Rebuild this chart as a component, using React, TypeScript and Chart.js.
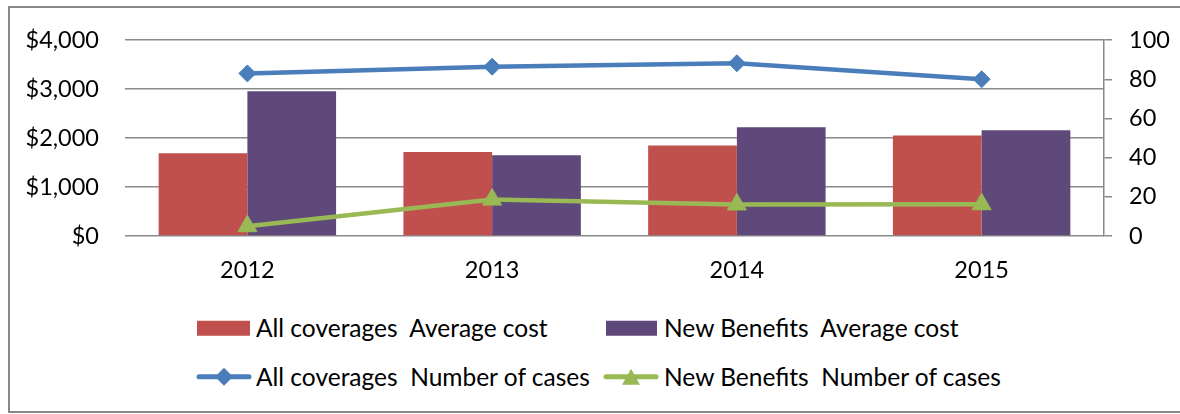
import React, { useEffect, useRef } from 'react';
import { Chart, registerables } from 'chart.js';

Chart.register(...registerables);

const years = ['2012', '2013', '2014', '2015'];
const allCoveragesAvgCost = [1690, 1715, 1850, 2050];
const newBenefitsAvgCost = [2955, 1650, 2220, 2160];
const allCoveragesCases = [83, 86.4, 88.2, 80];
const newBenefitsCases = [5, 18.6, 16.1, 16.2];
const seriesLabels = [
  'All coverages  Average cost',
  'New Benefits  Average cost',
  'All coverages  Number of cases',
  'New Benefits  Number of cases',
];

const RED = '#C0504D';
const PURPLE = '#5F497A';
const BLUE = '#4A7EBB';
const GREEN = '#98B954';
const GRID = '#8a8a8a';
const FONT = 'Lato, "Open Sans", sans-serif';

function LineIcon({ color, marker }: { color: string; marker: 'diamond' | 'triangle' }) {
  return (
    <svg width={56} height={24} style={{ display: 'block' }}>
      <line x1={3} y1={12} x2={53} y2={12} stroke={color} strokeWidth={5} strokeLinecap="round" />
      {marker === 'diamond' ? (
        <polygon points="28,3 37,12 28,21 19,12" fill={color} />
      ) : (
        <polygon points="28,4 37,20 19,20" fill={color} />
      )}
    </svg>
  );
}

export default function App() {
  const canvasRef = useRef<HTMLCanvasElement | null>(null);

  useEffect(() => {
    const canvas = canvasRef.current;
    if (!canvas) return;
    const tickFont = { family: FONT, size: 23.5 };
    const chart = new Chart(canvas, {
      type: 'bar',
      data: {
        labels: years,
        datasets: [
          {
            type: 'line',
            label: seriesLabels[2],
            data: allCoveragesCases,
            yAxisID: 'y1',
            borderColor: BLUE,
            backgroundColor: BLUE,
            borderWidth: 4.5,
            pointStyle: 'rectRot',
            pointRadius: 8.5,
            pointBorderWidth: 1,
            tension: 0,
            order: 0,
          } as any,
          {
            type: 'line',
            label: seriesLabels[3],
            data: newBenefitsCases,
            yAxisID: 'y1',
            borderColor: GREEN,
            backgroundColor: GREEN,
            borderWidth: 4.5,
            pointStyle: 'triangle',
            pointRadius: 11,
            pointBorderWidth: 1,
            tension: 0,
            order: 0,
          } as any,
          {
            type: 'bar',
            label: seriesLabels[0],
            data: allCoveragesAvgCost,
            yAxisID: 'y',
            backgroundColor: RED,
            barPercentage: 1,
            categoryPercentage: 0.725,
            order: 1,
          },
          {
            type: 'bar',
            label: seriesLabels[1],
            data: newBenefitsAvgCost,
            yAxisID: 'y',
            backgroundColor: PURPLE,
            barPercentage: 1,
            categoryPercentage: 0.725,
            order: 1,
          },
        ],
      },
      options: {
        responsive: true,
        maintainAspectRatio: false,
        animation: false,
        layout: { padding: 0 },
        plugins: {
          legend: { display: false },
          tooltip: { enabled: false },
        },
        scales: {
          x: {
            grid: { display: false, drawTicks: false },
            border: { display: false },
            ticks: { font: tickFont, color: '#000', padding: 20 },
            afterFit: (s: any) => {
              s.height = 54;
            },
          },
          y: {
            position: 'left',
            min: 0,
            max: 4000,
            ticks: {
              stepSize: 1000,
              font: tickFont,
              color: '#000',
              padding: 26,
              callback: (v: any) => '$' + Number(v).toLocaleString('en-US'),
            },
            grid: { color: GRID, lineWidth: 1.5, drawTicks: false },
            border: { display: false },
            afterFit: (s: any) => {
              s.width = 125;
            },
          },
          y1: {
            position: 'right',
            min: 0,
            max: 100,
            ticks: { stepSize: 20, font: tickFont, color: '#000', padding: 17 },
            grid: {
              drawOnChartArea: false,
              color: GRID,
              lineWidth: 1.5,
              tickLength: 8,
            },
            border: { display: true, color: GRID, width: 1.5 },
            afterFit: (s: any) => {
              s.width = 76;
            },
          },
        },
      } as any,
    });
    return () => chart.destroy();
  }, []);

  const textStyle: React.CSSProperties = {
    fontFamily: FONT,
    fontSize: 24.5,
    color: '#000',
    whiteSpace: 'pre',
    lineHeight: 1,
  };
  const item = (left: number, top: number): React.CSSProperties => ({
    position: 'fixed',
    left,
    top,
    transform: 'translateY(-50%)',
    display: 'flex',
    alignItems: 'center',
  });

  return (
    <div>
      <div
        style={{
          position: 'fixed',
          left: 8,
          top: 6,
          width: 1200,
          height: 407,
          boxSizing: 'border-box',
          border: '2px solid #888888',
          background: '#fff',
        }}
      />
      <div style={{ position: 'fixed', left: 0, top: 0, width: 1180, height: 290 }}>
        <canvas ref={canvasRef} />
      </div>
      <div style={item(197, 328)}>
        <div style={{ width: 53, height: 15, background: RED }} />
        <span style={{ ...textStyle, marginLeft: 6 }}>{seriesLabels[0]}</span>
      </div>
      <div style={item(606, 328)}>
        <div style={{ width: 51, height: 15, background: PURPLE }} />
        <span style={{ ...textStyle, marginLeft: 7 }}>{seriesLabels[1]}</span>
      </div>
      <div style={item(196, 377)}>
        <LineIcon color={BLUE} marker="diamond" />
        <span style={{ ...textStyle, marginLeft: 4 }}>{seriesLabels[2]}</span>
      </div>
      <div style={item(603, 377)}>
        <LineIcon color={GREEN} marker="triangle" />
        <span style={{ ...textStyle, marginLeft: 5 }}>{seriesLabels[3]}</span>
      </div>
    </div>
  );
}
